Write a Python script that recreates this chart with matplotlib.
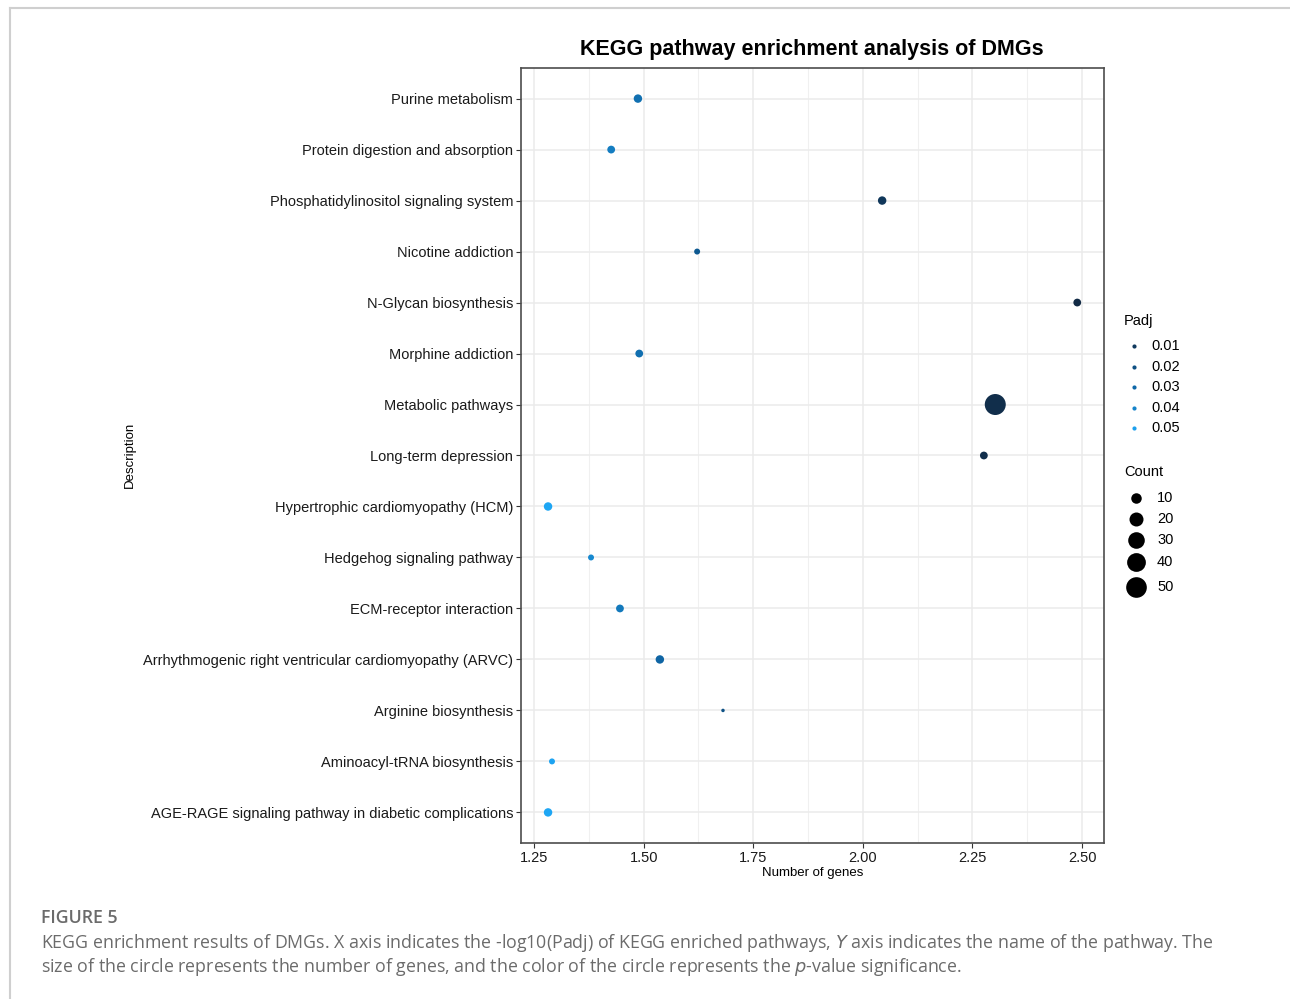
import numpy as np
import matplotlib
matplotlib.use("Agg")
import matplotlib.pyplot as plt
from matplotlib.colors import LinearSegmentedColormap, Normalize
from matplotlib.lines import Line2D

# ---------------------------------------------------------------------------
# Data: KEGG pathways, -log10(Padj) and gene counts
# ---------------------------------------------------------------------------
pathways = [
    "Purine metabolism",
    "Protein digestion and absorption",
    "Phosphatidylinositol signaling system",
    "Nicotine addiction",
    "N-Glycan biosynthesis",
    "Morphine addiction",
    "Metabolic pathways",
    "Long-term depression",
    "Hypertrophic cardiomyopathy (HCM)",
    "Hedgehog signaling pathway",
    "ECM-receptor interaction",
    "Arrhythmogenic right ventricular cardiomyopathy (ARVC)",
    "Arginine biosynthesis",
    "Aminoacyl-tRNA biosynthesis",
    "AGE-RAGE signaling pathway in diabetic complications",
]
neg_log_padj = [1.487, 1.426, 2.044, 1.622, 2.489, 1.490, 2.302, 2.276,
                1.282, 1.380, 1.446, 1.537, 1.681, 1.291, 1.282]
gene_count = [6, 5, 6, 3, 5, 5, 52, 5, 6, 3, 5, 6, 2, 3, 6]

padj_breaks = [0.01, 0.02, 0.03, 0.04, 0.05]
count_breaks = [10, 20, 30, 40, 50]
x_ticks = [1.25, 1.50, 1.75, 2.00, 2.25, 2.50]

padj = 10.0 ** (-np.array(neg_log_padj))
counts = np.array(gene_count, dtype=float)

# colour gradient dark navy (small Padj) -> bright blue (large Padj)
cmap = LinearSegmentedColormap.from_list(
    "padj", [(0.0, "#112a45"), (0.5, "#0e62a0"), (1.0, "#1ea6f4")])
cnorm = Normalize(vmin=padj.min(), vmax=padj.max())


def size_pts(c):
    # area palette like ggplot's scale_size (range 1..6)
    frac = (np.asarray(c, dtype=float) - counts.min()) / (counts.max() - counts.min())
    frac = np.clip(frac, 0, None)
    gg_size = 1 + 5 * np.sqrt(frac)
    diam = gg_size * 2.52  # diameter in points
    return diam ** 2


W, H = 1290, 999
fig = plt.figure(figsize=(W / 100, H / 100), dpi=100)
plt.rcParams["font.family"] = ["Liberation Sans", "DejaVu Sans"]

# page frame lines
fig.add_artist(Line2D([10 / W, 1], [1 - 8 / H, 1 - 8 / H], color="#cfcfcf", lw=1.5))
fig.add_artist(Line2D([10 / W, 10 / W], [0, 1 - 8 / H], color="#cfcfcf", lw=1.5))

ax = fig.add_axes([521 / W, 1 - 843 / H, 583 / W, 775 / H])
y = np.arange(len(pathways))[::-1] + 1

ax.scatter(neg_log_padj, y, s=size_pts(counts), c=cmap(cnorm(padj)),
           edgecolors="none", zorder=3)

ax.set_xlim(1.2203, 2.550)
ax.set_ylim(0.4, len(pathways) + 0.6)
ax.set_xticks(x_ticks)
ax.set_xticklabels([f"{t:.2f}" for t in x_ticks])
ax.set_xticks([1.375, 1.625, 1.875, 2.125, 2.375], minor=True)
ax.set_yticks(y)
ax.set_yticklabels(pathways)
ax.grid(True, which="major", color="#EBEBEB", lw=1.1, zorder=0)
ax.grid(True, which="minor", axis="x", color="#F0F0F0", lw=0.8, zorder=0)
ax.set_axisbelow(True)
for sp in ax.spines.values():
    sp.set_color("#4d4d4d")
    sp.set_linewidth(1.2)
ax.tick_params(axis="both", which="major", length=3.5, width=0.8, color="#333333",
               labelsize=10.5, labelcolor="#1a1a1a", pad=2)
ax.tick_params(axis="x", which="minor", length=0)

ax.set_xlabel("Number of genes", fontsize=9.5, labelpad=2)
fig.text(130 / W, 1 - 455 / H, "Description", rotation=90, fontsize=9.5,
         ha="center", va="center")
fig.text(812 / W, 1 - 50 / H, "KEGG pathway enrichment analysis of DMGs",
         fontsize=15.5, fontweight="bold", ha="center", va="center")

# Padj legend
fig.text(1124 / W, 1 - 321 / H, "Padj", fontsize=10.5, ha="left", va="center")
for i, b in enumerate(padj_breaks):
    yy = 346 + i * 20.6
    fig.add_artist(Line2D([1134 / W], [1 - yy / H], marker="o", ms=3.0, mec="none",
                          color=cmap(cnorm(b)), ls="none"))
    fig.text(1151 / W, 1 - yy / H, f"{b:.2f}", fontsize=10.5, ha="left", va="center")

# Count legend
fig.text(1124 / W, 1 - 472 / H, "Count", fontsize=10.5, ha="left", va="center")
count_y = [498, 519, 540, 562, 587]
for b, yy in zip(count_breaks, count_y):
    fig.add_artist(Line2D([1136 / W], [1 - yy / H], marker="o",
                          ms=float(np.sqrt(size_pts(b))), mec="none",
                          color="black", ls="none"))
    fig.text(1157 / W, 1 - yy / H, str(b), fontsize=10.5, ha="left", va="center")

# figure caption
fig.text(41 / W, 1 - 918 / H, "FIGURE 5", fontsize=12.8, color="#6b6b6b",
         fontweight="semibold", family="Open Sans", ha="left", va="center")
fig.text(41 / W, 1 - 943 / H,
         "KEGG enrichment results of DMGs. X axis indicates the -log10(Padj) of KEGG "
         "enriched pathways, $\\it{Y}$ axis indicates the name of the pathway. The",
         fontsize=12.8, color="#6b6b6b", family="Open Sans", ha="left", va="center")
fig.text(41 / W, 1 - 967 / H,
         "size of the circle represents the number of genes, and the color of the "
         "circle represents the $\\it{p}$-value significance.",
         fontsize=12.8, color="#6b6b6b", family="Open Sans", ha="left", va="center")

fig.savefig("out.png", dpi=100)
